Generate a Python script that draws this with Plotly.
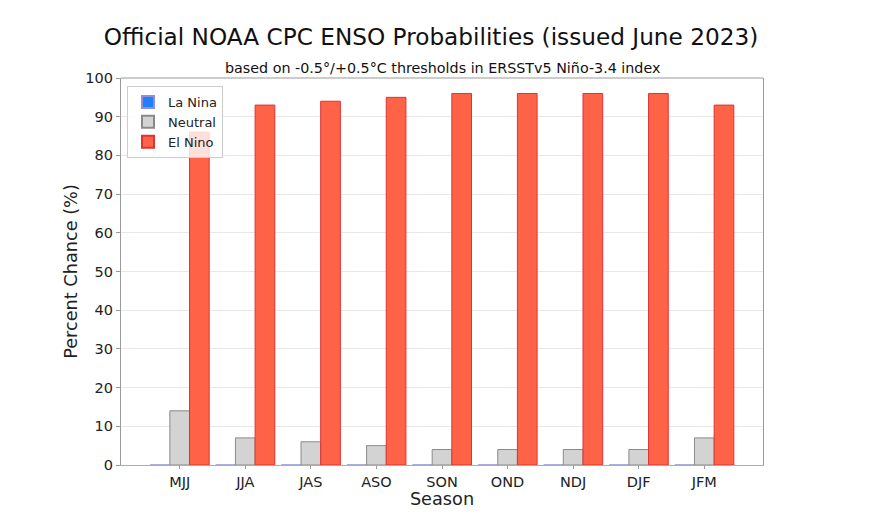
import plotly.graph_objects as go

seasons = ["MJJ", "JJA", "JAS", "ASO", "SON", "OND", "NDJ", "DJF", "JFM"]
la_nina = [0, 0, 0, 0, 0, 0, 0, 0, 0]
neutral = [14, 7, 6, 5, 4, 4, 4, 4, 7]
el_nino = [86, 93, 94, 95, 96, 96, 96, 96, 93]
y_ticks = [0, 10, 20, 30, 40, 50, 60, 70, 80, 90, 100]

FONT = "DejaVu Sans"
W, H = 885, 529
L, R, T, B = 121, 763, 78, 465

fig = go.Figure()
fig.add_trace(go.Bar(name="La Nina", x=seasons, y=la_nina,
                     marker=dict(color="#1F7FFF", line=dict(color="#8F8FD8", width=1))))
fig.add_trace(go.Bar(name="Neutral", x=seasons, y=neutral,
                     marker=dict(color="#D3D3D3", line=dict(color="#8A8A8A", width=1))))
fig.add_trace(go.Bar(name="El Nino", x=seasons, y=el_nino,
                     marker=dict(color="#FF6347", line=dict(color="#DD3333", width=1))))

fig.update_layout(
    width=W, height=H,
    margin=dict(l=L, r=W - R, t=T, b=H - B),
    paper_bgcolor="white", plot_bgcolor="white",
    barmode="group", bargap=0.1, bargroupgap=0,
    font=dict(family=FONT, color="#222222"),
    title=dict(text="Official NOAA CPC ENSO Probabilities (issued June 2023)",
               x=431 / W, xref="container", xanchor="center",
               y=1 - 37 / H, yref="container", yanchor="middle",
               font=dict(family=FONT, size=23.2, color="#111111")),
    legend=dict(x=(127 - L) / (R - L), y=1 - (86 - T) / (B - T),
                xanchor="left", yanchor="top",
                bgcolor="rgba(255,255,255,0.8)", bordercolor="#CCCCCC", borderwidth=1,
                font=dict(family=FONT, size=13, color="#222222"),
                tracegroupgap=2, itemsizing="constant"),
    showlegend=True,
)

fig.add_annotation(text="based on -0.5°/+0.5°C thresholds in ERSSTv5 Niño-3.4 index",
                   xref="paper", yref="paper", x=0.5, y=(B - 68) / (B - T),
                   xanchor="center", yanchor="middle", showarrow=False,
                   font=dict(family=FONT, size=14.3, color="#111111"))

fig.update_xaxes(
    range=[-0.895, 8.895],
    title=dict(text="Season", font=dict(family=FONT, size=17.7, color="#222222"), standoff=0),
    tickfont=dict(family=FONT, size=14.5, color="#222222"),
    ticks="outside", ticklen=3, tickcolor="#999999",
    showline=True, linecolor="#A8A8C8", linewidth=1.2, mirror=False,
    showgrid=False,
)
fig.update_yaxes(
    range=[0, 100], tickvals=y_ticks,
    title=dict(text="Percent Chance (%)", font=dict(family=FONT, size=17.7, color="#222222"), standoff=3),
    tickfont=dict(family=FONT, size=14.5, color="#222222"),
    ticks="outside", ticklen=4, tickcolor="#999999",
    showline=True, linecolor="#999999", linewidth=1.2, mirror=True,
    showgrid=True, gridcolor="#E8E8E8", gridwidth=1,
    zeroline=False,
)
fig.add_shape(type="line", xref="paper", yref="paper", x0=0, x1=1, y0=1, y1=1,
              line=dict(color="#999999", width=1.2))

fig.write_html("out.html")
